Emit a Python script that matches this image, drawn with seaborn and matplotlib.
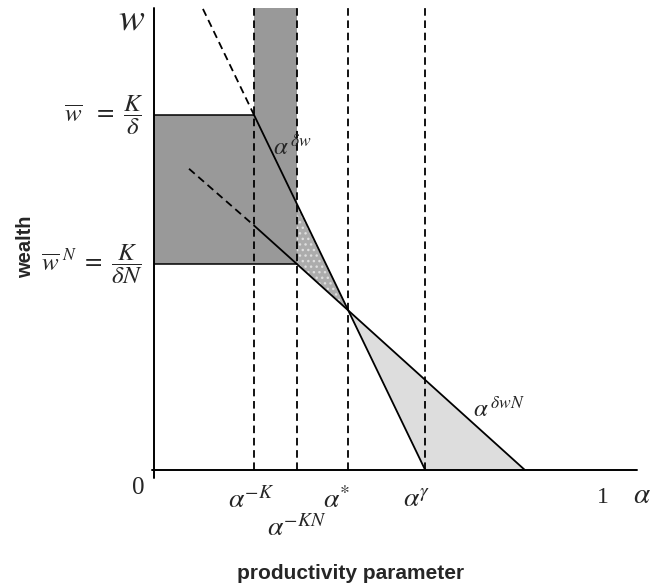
import matplotlib
matplotlib.use("Agg")
import matplotlib.pyplot as plt
import seaborn as sns
import numpy as np
import pandas as pd

# ---------------- data ----------------
alpha_marks = [0.223, 0.318, 0.431, 0.604]          # alpha^-K, alpha^-KN, alpha*, alpha^gamma
alpha_labels = [r"$\alpha^{-K}$", r"$\alpha^{-KN}$", r"$\alpha^{*}$", r"$\alpha^{\gamma}$"]
w_bar = 0.768                                       # K / delta
w_bar_N = 0.446                                     # K / (delta N)
y_top = 1.0
x_max = 1.0757

steep_x = [0.223, 0.604]                            # alpha^{delta w}
steep_y = [0.768, 0.0]
steep_ext_x = [0.109, 0.223]
steep_ext_y = [0.998, 0.768]

shallow_x = [0.223, 0.318, 0.826]                   # alpha^{delta w N}
shallow_y = [0.529, 0.446, 0.0]
shallow_ext_x = [0.078, 0.223]
shallow_ext_y = [0.652, 0.529]

# ---------------- style ----------------
sns.set_theme(style="white")
plt.rcParams["mathtext.fontset"] = "stix"
plt.rcParams["font.family"] = ["Liberation Serif", "DejaVu Serif"]
plt.rcParams["hatch.linewidth"] = 1.0

fig = plt.figure(figsize=(6.55, 5.85), dpi=100)
ax = fig.add_axes([154 / 655, 115 / 585, 483 / 655, 462 / 585])
ax.set_xlim(0, x_max)
ax.set_ylim(0, y_top)

a_K, a_KN, a_star, a_gam = alpha_marks

# dark grey region
ax.fill([0, 0, a_K, a_K, a_KN, a_KN],
        [w_bar_N, w_bar, w_bar, y_top, y_top, w_bar_N],
        color="#999999", lw=0, zorder=1)

# intersection of the two lines
s1 = (steep_y[1] - steep_y[0]) / (steep_x[1] - steep_x[0])
s2 = (shallow_y[2] - shallow_y[1]) / (shallow_x[2] - shallow_x[1])
xi = (shallow_y[1] - s2 * shallow_x[1] - steep_y[0] + s1 * steep_x[0]) / (s1 - s2)
yi = steep_y[0] + s1 * (xi - steep_x[0])
y_steep_KN = np.interp(a_KN, steep_x, steep_y)

# small dotted triangle
ax.fill([a_KN, a_KN, xi], [y_steep_KN, w_bar_N, yi],
        facecolor="#acacac", edgecolor="#dedede", hatch="...", lw=0, zorder=1)
# large light triangle
ax.fill([xi, steep_x[1], shallow_x[2]], [yi, 0, 0],
        facecolor="#dddddd", lw=0, zorder=1)

# horizontal level lines
ax.plot([0, a_K], [w_bar, w_bar], color="black", lw=1.1, zorder=3)
ax.plot([0, a_KN], [w_bar_N, w_bar_N], color="black", lw=1.1, zorder=3)

# dashed verticals
for a in alpha_marks:
    ax.plot([a, a], [0, y_top], color="black", lw=1.3, dashes=(4.2, 2.6), zorder=2)

# main lines via seaborn
sns.lineplot(x=steep_x, y=steep_y, ax=ax, color="black", lw=1.3, sort=False, estimator=None, zorder=4)
sns.lineplot(x=shallow_x, y=shallow_y, ax=ax, color="black", lw=1.3, sort=False, estimator=None, zorder=4)
sns.lineplot(x=steep_ext_x, y=steep_ext_y, ax=ax, color="black", lw=1.3, sort=False,
             estimator=None, dashes=False, linestyle=(0, (4.2, 2.6)), zorder=4)
sns.lineplot(x=shallow_ext_x, y=shallow_ext_y, ax=ax, color="black", lw=1.3, sort=False,
             estimator=None, dashes=False, linestyle=(0, (4.2, 2.6)), zorder=4)

# axes
for side in ["top", "right", "left", "bottom"]:
    ax.spines[side].set_visible(False)
ax.plot([0, 0], [-0.017, y_top], color="black", lw=1.4, clip_on=False, zorder=5)
ax.plot([-0.004, x_max], [0, 0], color="black", lw=1.4, clip_on=False, zorder=5)
ax.set_xticks([])
ax.set_yticks([])
ax.set_xlabel("")
ax.set_ylabel("")

# ---------------- text ----------------
ax.text(-0.051, 0.975, r"$w$", fontsize=28, ha="center", va="center")
ax.text(-0.0245, w_bar, r"$\overline{w}\ \ =\ \dfrac{K}{\delta}$", fontsize=18, ha="right", va="center")
ax.text(-0.0245, w_bar_N, r"$\overline{w}^{\ N}\ =\ \dfrac{K}{\delta N}$", fontsize=18, ha="right", va="center")
ax.text(-0.287, 0.483, "wealth", fontsize=14.5, fontweight="bold", rotation=90,
        ha="center", va="center", family=["Liberation Sans", "DejaVu Sans"])
ax.text(-0.036, -0.039, "0", fontsize=18, ha="center", va="center")

label_pos = [(0.165, -0.082), (0.252, -0.141), (0.377, -0.082), (0.555, -0.082)]
for (lx, ly), lab in zip(label_pos, alpha_labels):
    ax.text(lx, ly, lab, fontsize=20, ha="left", va="baseline")

ax.text(0.987, -0.071, "1", fontsize=17, ha="left", va="baseline")
ax.text(1.067, -0.071, r"$\alpha$", fontsize=21, ha="left", va="baseline")

ax.text(0.265, 0.682, r"$\alpha^{\,\delta w}$", fontsize=18, ha="left", va="baseline")
ax.text(0.710, 0.115, r"$\alpha^{\,\delta w N}$", fontsize=18, ha="left", va="baseline")

ax.text(0.437, -0.223, "productivity parameter", fontsize=15, fontweight="bold",
        ha="center", va="center", family=["Liberation Sans", "DejaVu Sans"])

fig.savefig("out.png", dpi=100)
